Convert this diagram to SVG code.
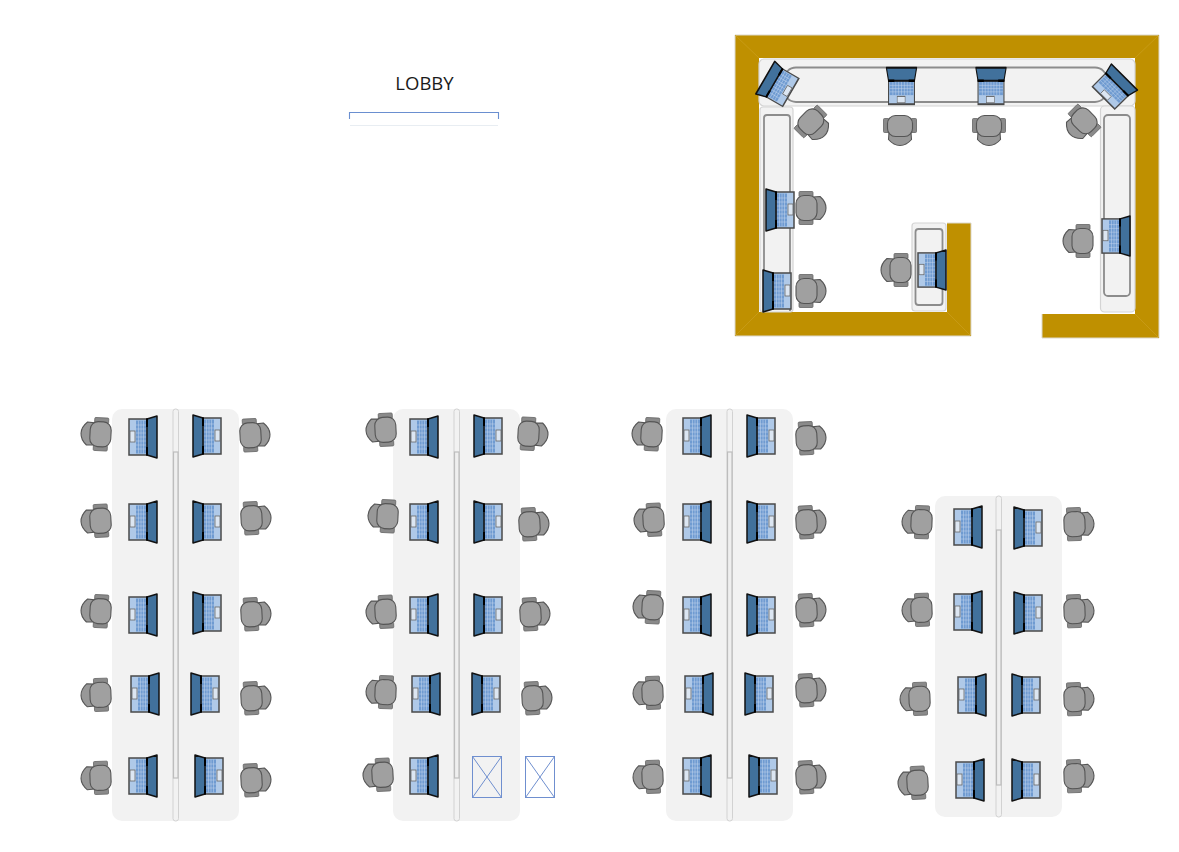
<svg xmlns="http://www.w3.org/2000/svg" width="1179" height="852" viewBox="0 0 1179 852">
<style>
.wall{fill:#bf9000;stroke:none}
.wall-edge{fill:none;stroke:#dcd8cc;stroke-width:1}
.mitre{fill:none;stroke:#c99d1a;stroke-width:.8}
.table{fill:#f2f2f2}
.outer{fill:#f2f2f2;stroke:#d4d4d4;stroke-width:1.2}
.inner{fill:#f2f2f2;stroke:#8c8c8c;stroke-width:1.8}
.spine{fill:#f2f2f2;stroke:#d2d2d2;stroke-width:1}
.spl{fill:#efefef;stroke:#bdbdbd;stroke-width:1.2}
.box{fill:none;stroke:#6f8fcf;stroke-width:1}
.seat{fill:#a0a0a0;stroke:#555;stroke-width:1.1}
.back{fill:#989898;stroke:#555;stroke-width:1.1;stroke-linejoin:round}
.arm{fill:#8a8a8a;stroke:#666;stroke-width:.8}
.base{fill:#afc9e8;stroke:#4a4a4a;stroke-width:1.5}
.key{fill:#6f9bd1;stroke:none}
.grid{stroke:#c4d6ee;stroke-width:.5;fill:none}
.pad{fill:#dce6f2;stroke:#666;stroke-width:.8}
.screen{fill:#41719c;stroke:#111;stroke-width:1.5;stroke-linejoin:round}
.hinge{stroke:#000;stroke-width:2;fill:none}
.lobby{font-family:"Open Sans","Noto Sans",sans-serif;font-size:18.500px;fill:#1a1a1a;text-anchor:middle}
</style>
<defs>
<g id="lap">
<rect class="base" x="-14" y="-18" width="18" height="36"/>
<rect class="key" x="-7" y="-16.500" width="10.500" height="33"/>
<path class="grid" d="M-4.500-16.500V16.500M-2-16.500V16.500M.5-16.500V16.500M-7-12H3.500M-7-8H3.500M-7-4H3.500M-7 0H3.500M-7 4H3.500M-7 8H3.500M-7 12H3.500"/>
<rect class="pad" x="-13" y="-6" width="5" height="11"/>
<path class="screen" d="M4-18 14-21V21L4 18Z"/>
<path class="hinge" d="M4-18.500V-10M4 10V18.500"/>
</g>
<g id="chair">
<path class="back" d="M-2-11-9-11.500C-13-8-15-4-15 0S-13 8-9 11.500L-2 11Z"/>
<rect class="arm" x="-2" y="-16.500" width="14" height="5.500" rx="1"/>
<rect class="arm" x="-2" y="11" width="14" height="5.500" rx="1"/>
<rect class="seat" x="-6" y="-12.500" width="21" height="25" rx="8"/>
</g>
</defs>

<g id="lobby-label">
<text class="lobby" x="424.500" y="90">LOBBY</text>
<path d="M349.500 119V112.500H498.500V119" fill="none" stroke="#6a8fd0" stroke-width="1.100"/>
<path d="M350 125.500H498" fill="none" stroke="#e8edf2" stroke-width="1"/>
</g>

<g id="room">
<g id="walls">
<path class="wall" d="M735 35H1159V338H1042V314H1135V58H759V312H947V223H971V336H735Z"/>
<path class="wall-edge" d="M735 35H1159V338H1042V314M971 223V336H735V35M947 223H971"/>
<path class="mitre" d="M735 35 759 58M1159 35 1135 58M1159 338 1135 314M971 336 947 312M735 336 759 312"/>
</g>
<g id="desks">
<rect class="outer" x="759" y="59" width="376" height="47" rx="5"/>
<rect class="inner" x="784" y="67.500" width="323" height="34.500" rx="12"/>
<rect class="outer" x="760" y="107" width="33" height="205" rx="3"/>
<path class="inner" d="M764 311V118Q764 115 767 115H787Q790 115 790 118V311"/>
<rect class="outer" x="1100.500" y="106" width="34.500" height="206" rx="4"/>
<rect class="inner" x="1104" y="115" width="26" height="181" rx="4"/>
<rect class="outer" x="912" y="223" width="34" height="88" rx="3"/>
<rect class="inner" x="915.500" y="229" width="27" height="76" rx="3"/>
</g>
<g id="r-w1"><use href="#chair" transform="translate(814 125) rotate(-135)"/><use href="#lap" transform="translate(778 85) rotate(-150) scale(1.05 .9)"/></g>
<g id="r-w2"><use href="#chair" transform="translate(900 130.500) rotate(-90)"/><use href="#lap" transform="translate(901.500 86) rotate(-90) scale(1.3 .72)"/></g>
<g id="r-w3"><use href="#chair" transform="translate(989 130.500) rotate(-90)"/><use href="#lap" transform="translate(991 86) rotate(-90) scale(1.3 .72)"/></g>
<g id="r-w4"><use href="#chair" transform="translate(1081 124) rotate(-45)"/><use href="#lap" transform="translate(1114 87.500) rotate(-45) scale(1.05 .88)"/></g>
<g id="r-w5"><use href="#chair" transform="translate(811 208) scale(-1 1)"/><use href="#lap" transform="translate(780 210) scale(-1 1)"/></g>
<g id="r-w6"><use href="#chair" transform="translate(811 291) scale(-1 1)"/><use href="#lap" transform="translate(777 291) scale(-1 1)"/></g>
<g id="r-w7"><use href="#chair" transform="translate(896 270)"/><use href="#lap" transform="translate(932 270) scale(1 .95)"/></g>
<g id="r-w8"><use href="#chair" transform="translate(1078 241)"/><use href="#lap" transform="translate(1116 236) scale(1 .95)"/></g>
</g>

<g id="table-1">
<rect class="table" x="112" y="409" width="127" height="412" rx="10"/>
<rect class="spine" x="173" y="409" width="5.500" height="412" rx="2.500"/><rect class="spl" x="173.500" y="452" width="4.500" height="326"/>
</g>
<g id="t1-l1"><use href="#chair" transform="translate(96 434) rotate(3)"/><use href="#lap" transform="translate(143 437)"/></g>
<g id="t1-l2"><use href="#chair" transform="translate(96 521) rotate(-3)"/><use href="#lap" transform="translate(143 522)"/></g>
<g id="t1-l3"><use href="#chair" transform="translate(96 611) rotate(3)"/><use href="#lap" transform="translate(143 615)"/></g>
<g id="t1-l4"><use href="#chair" transform="translate(96 695) rotate(-2)"/><use href="#lap" transform="translate(145 694)"/></g>
<g id="t1-l5"><use href="#chair" transform="translate(96 778) rotate(-2)"/><use href="#lap" transform="translate(143 776)"/></g>
<g id="t1-r1"><use href="#chair" transform="translate(255 435) scale(-1 1) rotate(3)"/><use href="#lap" transform="translate(207 436) scale(-1 1)"/></g>
<g id="t1-r2"><use href="#chair" transform="translate(256 518) scale(-1 1) rotate(3)"/><use href="#lap" transform="translate(207 522) scale(-1 1)"/></g>
<g id="t1-r3"><use href="#chair" transform="translate(256 614) scale(-1 1) rotate(3)"/><use href="#lap" transform="translate(207 613) scale(-1 1)"/></g>
<g id="t1-r4"><use href="#chair" transform="translate(256 698) scale(-1 1) rotate(3)"/><use href="#lap" transform="translate(205 694) scale(-1 1)"/></g>
<g id="t1-r5"><use href="#chair" transform="translate(256 780) scale(-1 1) rotate(3)"/><use href="#lap" transform="translate(209 776) scale(-1 1)"/></g>

<g id="table-2">
<rect class="table" x="393" y="409" width="127" height="412" rx="10"/>
<rect class="spine" x="454" y="409" width="5.500" height="412" rx="2.500"/><rect class="spl" x="454.500" y="452" width="4.500" height="326"/>
</g>
<g id="t2-l1"><use href="#chair" transform="translate(381 430) rotate(-3)"/><use href="#lap" transform="translate(424 437)"/></g>
<g id="t2-l2"><use href="#chair" transform="translate(383 516) rotate(3)"/><use href="#lap" transform="translate(424 522)"/></g>
<g id="t2-l3"><use href="#chair" transform="translate(381 612) rotate(-3)"/><use href="#lap" transform="translate(424 615)"/></g>
<g id="t2-l4"><use href="#chair" transform="translate(381 692) rotate(2)"/><use href="#lap" transform="translate(426 694)"/></g>
<g id="t2-l5"><use href="#chair" transform="translate(378 775) rotate(-3)"/><use href="#lap" transform="translate(424 776)"/></g>
<g id="t2-r1"><use href="#chair" transform="translate(533 434) scale(-1 1) rotate(-3)"/><use href="#lap" transform="translate(488 436) scale(-1 1)"/></g>
<g id="t2-r2"><use href="#chair" transform="translate(534 524) scale(-1 1) rotate(3)"/><use href="#lap" transform="translate(488 522) scale(-1 1)"/></g>
<g id="t2-r3"><use href="#chair" transform="translate(535 614) scale(-1 1) rotate(3)"/><use href="#lap" transform="translate(488 615) scale(-1 1)"/></g>
<g id="t2-r4"><use href="#chair" transform="translate(537 698) scale(-1 1) rotate(3)"/><use href="#lap" transform="translate(486 694) scale(-1 1)"/></g>
<g id="t2-x1"><rect class="box" x="472.500" y="756.500" width="29" height="41"/><path class="box" d="M472.500 756.500 501.500 797.500M501.500 756.500 472.500 797.500"/></g>
<g id="t2-x2"><rect class="box" x="525.500" y="756.500" width="29" height="41"/><path class="box" d="M525.500 756.500 554.500 797.500M554.500 756.500 525.500 797.500"/></g>

<g id="table-3">
<rect class="table" x="666" y="409" width="127" height="412" rx="10"/>
<rect class="spine" x="727" y="409" width="5.500" height="412" rx="2.500"/><rect class="spl" x="727.500" y="452" width="4.500" height="326"/>
</g>
<g id="t3-l1"><use href="#chair" transform="translate(647 434) rotate(3)"/><use href="#lap" transform="translate(697 436)"/></g>
<g id="t3-l2"><use href="#chair" transform="translate(649 520) rotate(-3)"/><use href="#lap" transform="translate(697 522)"/></g>
<g id="t3-l3"><use href="#chair" transform="translate(648 607) rotate(3)"/><use href="#lap" transform="translate(697 615)"/></g>
<g id="t3-l4"><use href="#chair" transform="translate(648 693) rotate(-2)"/><use href="#lap" transform="translate(699 694)"/></g>
<g id="t3-l5"><use href="#chair" transform="translate(648 777) rotate(-2)"/><use href="#lap" transform="translate(697 776)"/></g>
<g id="t3-r1"><use href="#chair" transform="translate(811 438) scale(-1 1) rotate(3)"/><use href="#lap" transform="translate(761 436) scale(-1 1)"/></g>
<g id="t3-r2"><use href="#chair" transform="translate(811 522) scale(-1 1) rotate(3)"/><use href="#lap" transform="translate(761 522) scale(-1 1)"/></g>
<g id="t3-r3"><use href="#chair" transform="translate(811 610) scale(-1 1) rotate(3)"/><use href="#lap" transform="translate(761 615) scale(-1 1)"/></g>
<g id="t3-r4"><use href="#chair" transform="translate(811 690) scale(-1 1) rotate(3)"/><use href="#lap" transform="translate(759 694) scale(-1 1)"/></g>
<g id="t3-r5"><use href="#chair" transform="translate(811 777) scale(-1 1) rotate(3)"/><use href="#lap" transform="translate(763 776) scale(-1 1)"/></g>

<g id="table-4">
<rect class="table" x="935" y="496" width="127" height="321" rx="10"/>
<rect class="spine" x="996" y="496" width="5.500" height="321" rx="2.500"/><rect class="spl" x="996.500" y="530" width="4.500" height="255"/>
</g>
<g id="t4-l1"><use href="#chair" transform="translate(917 522) rotate(2)"/><use href="#lap" transform="translate(968 527)"/></g>
<g id="t4-l2"><use href="#chair" transform="translate(917 610) rotate(-2)"/><use href="#lap" transform="translate(968 612)"/></g>
<g id="t4-l3"><use href="#chair" transform="translate(915 699) rotate(-2)"/><use href="#lap" transform="translate(972 695)"/></g>
<g id="t4-l4"><use href="#chair" transform="translate(913 783) rotate(-3)"/><use href="#lap" transform="translate(970 780)"/></g>
<g id="t4-r1"><use href="#chair" transform="translate(1079 524) scale(-1 1) rotate(2)"/><use href="#lap" transform="translate(1028 528) scale(-1 1)"/></g>
<g id="t4-r2"><use href="#chair" transform="translate(1079 611) scale(-1 1) rotate(2)"/><use href="#lap" transform="translate(1028 613) scale(-1 1)"/></g>
<g id="t4-r3"><use href="#chair" transform="translate(1079 699) scale(-1 1) rotate(2)"/><use href="#lap" transform="translate(1026 695) scale(-1 1)"/></g>
<g id="t4-r4"><use href="#chair" transform="translate(1079 776) scale(-1 1) rotate(2)"/><use href="#lap" transform="translate(1026 780) scale(-1 1)"/></g>
<g id="connectors"/>
</svg>
